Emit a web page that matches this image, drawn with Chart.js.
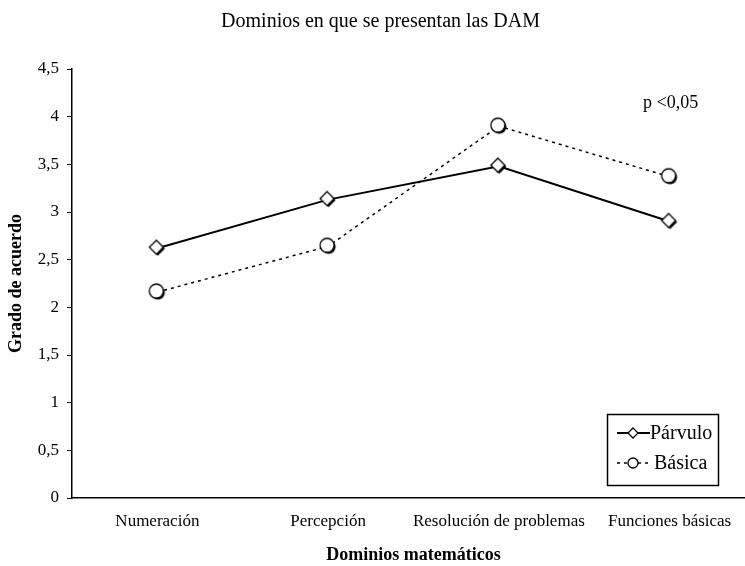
<!DOCTYPE html>
<html>
<head>
<meta charset="utf-8">
<script src="https://cdn.jsdelivr.net/npm/chart.js@4/dist/chart.umd.min.js"></script>
<style>
  html, body { margin: 0; padding: 0; background: #fff; overflow: hidden; }
  #wrap { width: 745px; height: 566px; position: relative; overflow: hidden; }
</style>
</head>
<body>
<div id="wrap"><canvas id="myChart" width="770" height="566"></canvas></div>
<script>
var categories = ["Numeración", "Percepción", "Resolución de problemas", "Funciones básicas"];
var parvulo = [2.62, 3.13, 3.48, 2.90];
var basica = [2.16, 2.64, 3.90, 3.37];
var yTicks = [0, 0.5, 1, 1.5, 2, 2.5, 3, 3.5, 4, 4.5];

var FONT = "'Liberation Serif', 'Times New Roman', serif";

// marker images with a small dark shadow, like the original
function makeMarker(kind) {
  var c = document.createElement('canvas');
  c.width = 20; c.height = 20;
  var g = c.getContext('2d');
  function shape(dx, dy) {
    g.beginPath();
    if (kind === 'diamond') {
      g.moveTo(9 + dx, 2 + dy); g.lineTo(16 + dx, 9 + dy);
      g.lineTo(9 + dx, 16 + dy); g.lineTo(2 + dx, 9 + dy); g.closePath();
    } else {
      g.arc(9 + dx, 9 + dy, 7, 0, Math.PI * 2);
    }
  }
  shape(1.5, 1.5); g.fillStyle = '#000'; g.fill();
  shape(0, 0); g.fillStyle = '#fff'; g.fill();
  g.lineWidth = 1.3; g.strokeStyle = '#000'; g.stroke();
  return c;
}
var diamondImg = makeMarker('diamond');
var circleImg = makeMarker('circle');

var extras = {
  id: 'extras',
  afterDraw: function (chart) {
    var ctx = chart.ctx;
    ctx.save();
    ctx.fillStyle = '#000';
    ctx.font = '18px ' + FONT;
    ctx.textBaseline = 'middle';
    ctx.fillText('p <0,05', 643, 103);

    // legend box
    var x = 607, y = 414, w = 111, h = 71;
    ctx.strokeStyle = '#000';
    ctx.lineWidth = 1.5;
    ctx.strokeRect(x + 0.5, y + 0.5, w, h);
    chart.data.datasets.forEach(function (ds, i) {
      var ly = y + 19 + i * 30;
      ctx.beginPath();
      ctx.lineWidth = ds.borderWidth;
      ctx.setLineDash(ds.borderDash || []);
      ctx.moveTo(x + 10, ly); ctx.lineTo(x + 43, ly);
      ctx.stroke();
      ctx.setLineDash([]);
      ctx.beginPath();
      ctx.fillStyle = '#fff';
      var cx = x + 26;
      if (i === 0) {
        ctx.moveTo(cx, ly - 5); ctx.lineTo(cx + 5, ly);
        ctx.lineTo(cx, ly + 5); ctx.lineTo(cx - 5, ly);
        ctx.closePath();
      } else {
        ctx.arc(cx, ly, 5, 0, Math.PI * 2);
      }
      ctx.fill();
      ctx.lineWidth = 1.3;
      ctx.stroke();
      ctx.fillStyle = '#000';
      ctx.font = '20px ' + FONT;
      ctx.fillText(ds.label, x + 43 + (i === 1 ? 4 : 0), ly + 1);
    });
    ctx.restore();
  }
};

var ctx = document.getElementById('myChart').getContext('2d');
var myLineChart = new Chart(ctx, {
  type: 'line',
  data: {
    labels: categories,
    datasets: [{
      label: 'Párvulo',
      data: parvulo,
      borderColor: '#000',
      borderWidth: 2,
      pointStyle: diamondImg,
      fill: false,
      tension: 0
    }, {
      label: 'Básica',
      data: basica,
      borderColor: '#000',
      borderWidth: 1.5,
      borderDash: [3, 4],
      pointStyle: circleImg,
      fill: false,
      tension: 0
    }]
  },
  plugins: [extras],
  options: {
    responsive: false,
    animation: false,
    layout: { padding: { left: 6, right: 15, top: 0, bottom: 0 } },
    plugins: {
      legend: { display: false },
      tooltip: { enabled: false },
      title: {
        display: true,
        text: 'Dominios en que se presentan las DAM',
        color: '#000',
        font: { family: FONT, size: 20, weight: 'normal' },
        padding: { top: 10, bottom: 35 }
      }
    },
    scales: {
      x: {
        offset: true,
        border: { color: '#000', width: 1.5 },
        grid: { display: false },
        ticks: { color: '#000', font: { family: FONT, size: 17 }, maxRotation: 0, autoSkip: false, padding: 5 },
        title: {
          display: true,
          text: 'Dominios matemáticos',
          color: '#000',
          font: { family: FONT, size: 18, weight: 'bold' },
          padding: { top: 8, bottom: 0 }
        }
      },
      y: {
        min: 0,
        max: 4.5,
        afterBuildTicks: function (axis) {
          axis.ticks = yTicks.map(function (v) { return { value: v }; });
        },
        afterFit: function (axis) { axis.width = 66; },
        border: { color: '#000', width: 1.5 },
        grid: { drawOnChartArea: false, tickLength: 5, color: '#000' },
        ticks: {
          color: '#000',
          font: { family: FONT, size: 17 },
          padding: 8,
          callback: function (v) { return String(v).replace('.', ','); }
        },
        title: {
          display: true,
          text: 'Grado de acuerdo',
          color: '#000',
          font: { family: FONT, size: 18, weight: 'bold' },
          padding: { top: 0, bottom: 0 }
        }
      }
    }
  }
});
</script>
</body>
</html>
